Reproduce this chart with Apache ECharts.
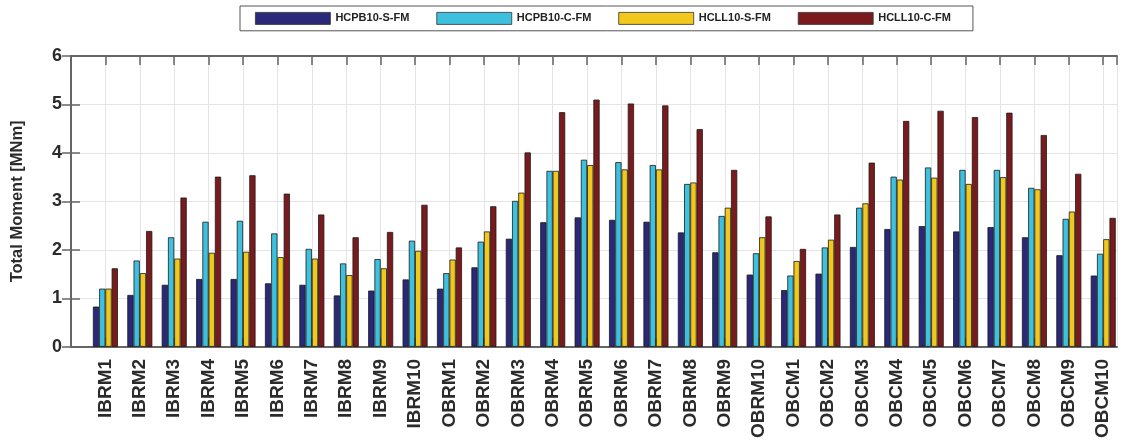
<!DOCTYPE html>
<html>
<head>
<meta charset="utf-8">
<script src="https://cdn.jsdelivr.net/npm/echarts@6/dist/echarts.min.js"></script>
<style>
html,body{margin:0;padding:0;background:#fff;}
#chart{width:1133px;height:441px;}
</style>
</head>
<body>
<div id="chart"></div>
<script>
const categories = ['IBRM1','IBRM2','IBRM3','IBRM4','IBRM5','IBRM6','IBRM7','IBRM8','IBRM9','IBRM10',
  'OBRM1','OBRM2','OBRM3','OBRM4','OBRM5','OBRM6','OBRM7','OBRM8','OBRM9','OBRM10',
  'OBCM1','OBCM2','OBCM3','OBCM4','OBCM5','OBCM6','OBCM7','OBCM8','OBCM9','OBCM10'];
const seriesNames = ['HCPB10-S-FM','HCPB10-C-FM','HCLL10-S-FM','HCLL10-C-FM'];
const hcpbS = [0.83,1.07,1.28,1.40,1.40,1.31,1.28,1.06,1.16,1.39,
  1.20,1.64,2.23,2.57,2.67,2.62,2.58,2.36,1.95,1.49,
  1.17,1.51,2.06,2.43,2.49,2.38,2.47,2.26,1.89,1.47];
const hcpbC = [1.20,1.78,2.26,2.58,2.60,2.34,2.02,1.72,1.81,2.19,
  1.52,2.17,3.01,3.63,3.86,3.81,3.75,3.36,2.70,1.93,
  1.47,2.05,2.87,3.51,3.70,3.65,3.65,3.28,2.64,1.92];
const hcllS = [1.20,1.52,1.82,1.94,1.96,1.85,1.82,1.48,1.62,1.98,
  1.80,2.38,3.18,3.63,3.75,3.66,3.66,3.39,2.87,2.26,
  1.77,2.21,2.96,3.45,3.49,3.36,3.50,3.25,2.79,2.22];
const hcllC = [1.62,2.39,3.08,3.51,3.54,3.16,2.73,2.26,2.37,2.93,
  2.05,2.90,4.01,4.84,5.10,5.02,4.98,4.49,3.65,2.69,
  2.02,2.73,3.80,4.66,4.87,4.74,4.83,4.37,3.57,2.66];
const yTicks = [0,1,2,3,4,5,6];
const colors = ['#2a2878','#3ec1df','#f3c81c','#7b1a1c'];

const allData = [hcpbS, hcpbC, hcllS, hcllC];
const chart = echarts.init(document.getElementById('chart'));
const font = 'Liberation Sans, Arial, sans-serif';
const axisLineStyle = {color:'#666', width:2};
const tickStyle = {show:true, inside:true, length:9, lineStyle:{color:'#666', width:1.5}};
const gridLine = {show:true, lineStyle:{color:'#e4e4e4', width:1}};

chart.setOption({
  animation:false,
  backgroundColor:'#fff',
  legend:{
    data:seriesNames,
    left:240, top:6,
    orient:'horizontal',
    icon:'rect',
    itemWidth:75, itemHeight:12, itemGap:27,
    padding:[6,22,6,15],
    borderColor:'#555', borderWidth:1,
    textStyle:{fontFamily:font, fontSize:11, fontWeight:'bold', color:'#222'},
    itemStyle:{borderColor:'#333', borderWidth:0.8}
  },
  grid:{left:71, right:16, top:56, bottom:92, containLabel:false},
  xAxis:[{
    type:'value', min:0, max:30.4, interval:1,
    axisLine:{show:true, onZero:false, lineStyle:axisLineStyle},
    axisTick:tickStyle,
    splitLine:gridLine,
    axisLabel:{
      rotate:90, margin:12, color:'#2b2b2b',
      fontFamily:font, fontSize:19, fontWeight:'bold',
      showMaxLabel:false, showMinLabel:false,
      formatter:function(v){ return Number.isInteger(v) && v>=1 && v<=categories.length ? categories[v-1] : ''; }
    }
  },{
    type:'value', position:'top', min:0, max:30.4, interval:1,
    axisLine:{show:true, onZero:false, lineStyle:axisLineStyle},
    axisTick:tickStyle,
    axisLabel:{show:false}, splitLine:{show:false}
  }],
  yAxis:[{
    type:'value', min:yTicks[0], max:yTicks[yTicks.length-1], interval:1,
    name:'Total Moment [MNm]', nameLocation:'middle', nameGap:45,
    nameTextStyle:{fontFamily:font, fontSize:16.5, fontWeight:'bold', color:'#2b2b2b'},
    axisLine:{show:true, lineStyle:axisLineStyle},
    axisTick:tickStyle,
    splitLine:gridLine,
    axisLabel:{margin:9, color:'#2b2b2b', fontFamily:font, fontSize:18, fontWeight:'bold'}
  },{
    type:'value', position:'right', min:0, max:6, interval:1,
    axisLine:{show:true, lineStyle:axisLineStyle},
    axisTick:tickStyle,
    axisLabel:{show:false}, splitLine:{show:false}
  }],
  series: seriesNames.map(function(name, k){
    return {
      name:name, type:'bar', xAxisIndex:0, yAxisIndex:0,
      barWidth:6.25, barGap:'0%',
      itemStyle:{color:colors[k], borderColor:'#1a1a1a', borderWidth:0.8},
      data: allData[k].map(function(v,i){ return [i+1, v]; })
    };
  })
});
</script>
</body>
</html>
